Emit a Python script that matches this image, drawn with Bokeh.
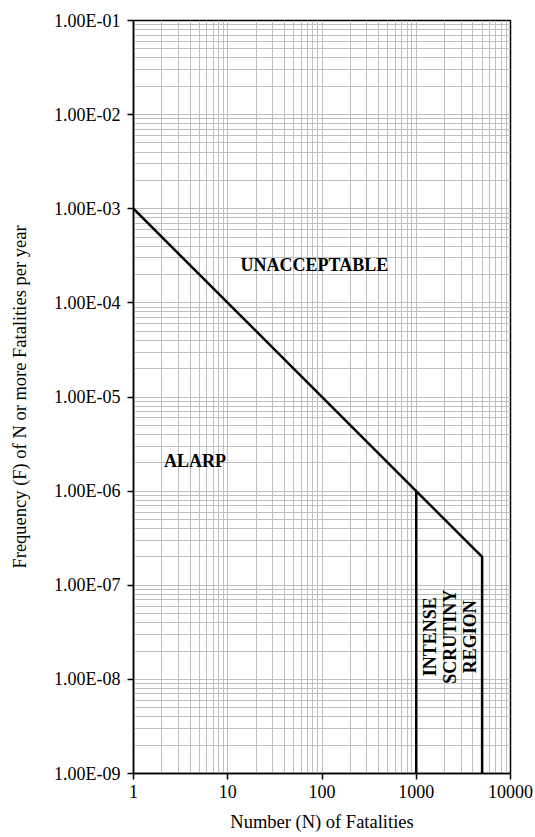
import math
from bokeh.plotting import figure
from bokeh.models import Range1d, FixedTicker, CustomJSTickFormatter, ColumnDataSource
from bokeh.core.properties import value
from bokeh.embed import file_html
from bokeh.resources import INLINE

# ---- data ----
criterion_n = [1, 1000, 5000, 5000]
criterion_f = [1e-3, 1e-6, 2e-7, 1e-9]
scrutiny_n = [1000, 1000]
scrutiny_f = [1e-6, 1e-9]

x_ticks = [1, 10, 100, 1000, 10000]
x_labels = ["1", "10", "100", "1000", "10000"]
y_ticks = [1e-9, 1e-8, 1e-7, 1e-6, 1e-5, 1e-4, 1e-3, 1e-2, 1e-1]
y_labels = ["1.00E-09", "1.00E-08", "1.00E-07", "1.00E-06", "1.00E-05",
            "1.00E-04", "1.00E-03", "1.00E-02", "1.00E-01"]

region_text = ["UNACCEPTABLE", "ALARP", "INTENSE\nSCRUTINY\nREGION"]
region_n = [83, 4.5, 2254]
region_f = [2.5e-4, 2.1e-6, 2.84e-8]
region_angle = [0, 0, math.pi / 2]

FONT = "Liberation Serif"
GRID = "#bfbfbf"

x_minor = [k * t for t in x_ticks[:-1] for k in range(2, 10)]
y_minor = [k * t for t in y_ticks[:-1] for k in range(2, 10)]

p = figure(width=535, height=837, x_axis_type="log", y_axis_type="log",
           x_range=Range1d(1, 10000), y_range=Range1d(1e-9, 1e-1),
           output_backend="svg", toolbar_location=None,
           min_border_left=133, min_border_right=25,
           min_border_top=20, min_border_bottom=64)

p.background_fill_color = "white"
p.border_fill_color = "white"
p.outline_line_color = "black"
p.outline_line_width = 1.5

p.xaxis.ticker = FixedTicker(ticks=x_ticks, minor_ticks=x_minor)
p.yaxis.ticker = FixedTicker(ticks=y_ticks, minor_ticks=y_minor)

fmt_code = """
for (let i = 0; i < tv.length; i++) {
  if (Math.abs(Math.log10(tick) - Math.log10(tv[i])) < 1e-6) return lb[i];
}
return "";
"""
p.xaxis.formatter = CustomJSTickFormatter(args=dict(tv=x_ticks, lb=x_labels), code=fmt_code)
p.yaxis.formatter = CustomJSTickFormatter(args=dict(tv=y_ticks, lb=y_labels), code=fmt_code)

for g in (p.xgrid, p.ygrid):
    g.grid_line_color = GRID
    g.grid_line_width = 1
    g.minor_grid_line_color = GRID
    g.minor_grid_line_width = 1

for ax in (p.xaxis, p.yaxis):
    ax.axis_line_color = "black"
    ax.axis_line_width = 1.5
    ax.major_tick_line_color = "black"
    ax.major_tick_line_width = 1.5
    ax.major_tick_in = 0
    ax.major_tick_out = 6
    ax.minor_tick_line_color = None
    ax.major_label_text_font = FONT
    ax.major_label_text_font_size = "18px"
    ax.major_label_text_color = "black"
    ax.axis_label_text_font = FONT
    ax.axis_label_text_font_size = "18.5px"
    ax.axis_label_text_font_style = "normal"
    ax.axis_label_text_color = "black"

p.xaxis.axis_label = "Number (N) of Fatalities"
p.yaxis.axis_label = "Frequency (F) of N or more Fatalities per year"
p.xaxis.major_label_standoff = 5
p.yaxis.major_label_standoff = 7
p.xaxis.axis_label_standoff = 11
p.yaxis.axis_label_standoff = 21

p.line(criterion_n, criterion_f, line_color="black", line_width=2.5)
p.line(scrutiny_n, scrutiny_f, line_color="black", line_width=2.5)

src = ColumnDataSource(dict(x=region_n, y=region_f, t=region_text, a=region_angle))
p.text(x="x", y="y", text="t", angle="a", source=src,
       text_font=value(FONT), text_font_style="bold", text_font_size="18px",
       text_color="black", text_align="center", text_baseline="middle",
       text_line_height=1.0)

open("out.html", "w").write(file_html(p, INLINE))
